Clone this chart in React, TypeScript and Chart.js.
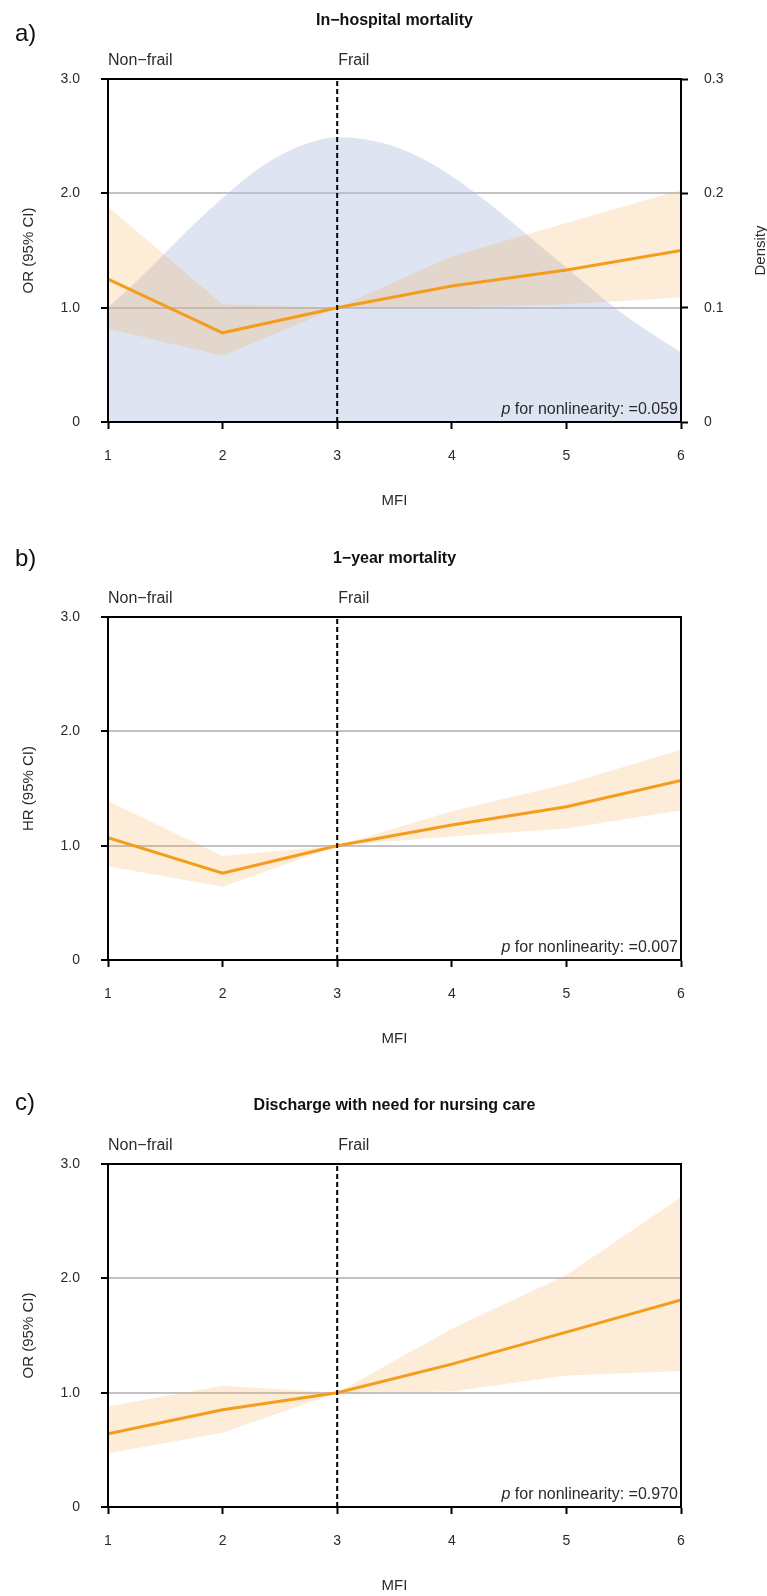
import React, { useEffect, useRef } from 'react';
import { Chart, registerables } from 'chart.js';

Chart.register(...registerables);

const FONT = "'Liberation Sans', Arial, Helvetica, sans-serif";
const TXT = '#2b2b2b';
const ORANGE = '#F49C1C';
const BAND = 'rgba(245,160,60,0.2)';
const DENS = 'rgba(176,190,222,0.42)';
const GRID = '#c2c2c2';

// x categories (MFI)
const mfi = [1, 2, 3, 4, 5, 6];

// a) In-hospital mortality (OR)
const aEstimate = [1.25, 0.78, 1.0, 1.19, 1.33, 1.5];
const aLower = [0.815, 0.58, 1.0, 1.0, 1.03, 1.09];
const aUpper = [1.88, 1.03, 1.0, 1.45, 1.74, 2.03];

// b) 1-year mortality (HR)
const bEstimate = [1.07, 0.76, 1.0, 1.18, 1.34, 1.57];
const bLower = [0.82, 0.64, 1.0, 1.08, 1.15, 1.31];
const bUpper = [1.39, 0.91, 1.0, 1.3, 1.54, 1.84];

// c) Discharge with need for nursing care (OR)
const cEstimate = [0.64, 0.85, 1.0, 1.25, 1.53, 1.81];
const cLower = [0.47, 0.65, 1.0, 1.01, 1.15, 1.19];
const cUpper = [0.88, 1.06, 1.0, 1.56, 2.03, 2.71];

// MFI density (panel a, right axis)
const densityX = [1, 1.25, 1.5, 1.75, 2, 2.25, 2.5, 2.75, 3, 3.25, 3.5, 3.75, 4, 4.25, 4.5, 4.75, 5, 5.25, 5.5, 5.75, 6];
const densityY = [0.1, 0.123, 0.148, 0.173, 0.196, 0.217, 0.233, 0.244, 0.249, 0.247, 0.241, 0.23, 0.215, 0.197, 0.177, 0.156, 0.135, 0.114, 0.094, 0.077, 0.061];

// tick labels
const yTicks = [0, 1, 2, 3];
const yTickLabels = ['0', '1.0', '2.0', '3.0'];
const densTicks = [0, 0.1, 0.2, 0.3];
const densTickLabels = ['0', '0.1', '0.2', '0.3'];

const refX = [3, 3];
const refY = [0, 3];

type PanelCfg = {
  height: number;
  label: string;
  labelBaseline: number;
  title: string;
  yTitle: string;
  pValue: string;
  est: number[];
  lower: number[];
  upper: number[];
  density: boolean;
};

const panels: PanelCfg[] = [
  { height: 538, label: 'a)', labelBaseline: 41, title: 'In\u2212hospital mortality', yTitle: 'OR (95% CI)', pValue: '=0.059', est: aEstimate, lower: aLower, upper: aUpper, density: true },
  { height: 547, label: 'b)', labelBaseline: 28, title: '1\u2212year mortality', yTitle: 'HR (95% CI)', pValue: '=0.007', est: bEstimate, lower: bLower, upper: bUpper, density: false },
  { height: 511, label: 'c)', labelBaseline: 25, title: 'Discharge with need for nursing care', yTitle: 'OR (95% CI)', pValue: '=0.970', est: cEstimate, lower: cLower, upper: cUpper, density: false },
];

const PLOT_BOTTOM = 422;
const PLOT_TOP = 79;

function toXY(xs: number[], ys: number[]) {
  return xs.map((x, i) => ({ x, y: ys[i] }));
}

function Panel({ cfg }: { cfg: PanelCfg }) {
  const ref = useRef<HTMLCanvasElement>(null);
  useEffect(() => {
    const canvas = ref.current;
    if (!canvas) return;
    const H = cfg.height;
    const datasets: any[] = [
      {
        label: 'ref',
        data: toXY(refX, refY),
        borderColor: '#000',
        borderWidth: 2,
        borderDash: [5, 3],
        pointRadius: 0,
        fill: false,
        order: 0,
      },
      {
        label: 'estimate',
        data: toXY(mfi, cfg.est),
        borderColor: ORANGE,
        borderWidth: 3,
        pointRadius: 0,
        fill: false,
        tension: 0,
        order: 1,
      },
      {
        label: 'upper',
        data: toXY(mfi, cfg.upper),
        borderColor: 'rgba(0,0,0,0)',
        borderWidth: 0,
        backgroundColor: BAND,
        pointRadius: 0,
        fill: '+1',
        order: 2,
      },
      {
        label: 'lower',
        data: toXY(mfi, cfg.lower),
        borderColor: 'rgba(0,0,0,0)',
        borderWidth: 0,
        pointRadius: 0,
        fill: false,
        order: 3,
      },
    ];
    if (cfg.density) {
      datasets.push({
        label: 'density',
        data: toXY(densityX, densityY),
        yAxisID: 'y2',
        borderColor: 'rgba(0,0,0,0)',
        borderWidth: 0,
        backgroundColor: DENS,
        pointRadius: 0,
        fill: 'origin',
        cubicInterpolationMode: 'monotone',
        order: 5,
      });
    }

    const tickFont = { family: FONT, size: 14 };
    const titleFont = { family: FONT, size: 15 };

    const scales: any = {
      x: {
        type: 'linear',
        position: 'bottom',
        min: 1,
        max: 6,
        afterBuildTicks: (s: any) => {
          s.ticks = mfi.map((v) => ({ value: v }));
        },
        ticks: { font: tickFont, color: TXT, padding: 18.6, maxRotation: 0, autoSkip: false },
        grid: { drawOnChartArea: false, drawTicks: true, tickLength: 7, tickColor: '#000', tickWidth: 2, color: '#000' },
        border: { display: true, color: '#000', width: 2 },
        title: { display: true, text: 'MFI', font: titleFont, color: TXT, padding: { top: 0, bottom: H - 501 - 9 } },
        afterFit: (s: any) => {
          s.height = H - PLOT_BOTTOM;
        },
      },
      y: {
        type: 'linear',
        position: 'left',
        min: 0,
        max: 3,
        afterBuildTicks: (s: any) => {
          s.ticks = yTicks.map((v) => ({ value: v }));
        },
        ticks: {
          font: tickFont,
          color: TXT,
          padding: 21,
          callback: (v: any) => yTickLabels[yTicks.indexOf(Number(v))] ?? String(v),
        },
        grid: {
          color: (ctx: any) => (ctx.tick && (ctx.tick.value === 1 || ctx.tick.value === 2) ? GRID : 'rgba(0,0,0,0)'),
          lineWidth: 2,
          drawTicks: true,
          tickLength: 7,
          tickColor: '#000',
          tickWidth: 2,
        },
        border: { display: true, color: '#000', width: 2 },
        title: { display: true, text: cfg.yTitle, font: titleFont, color: TXT, padding: { top: 20, bottom: 0 } },
        afterFit: (s: any) => {
          s.width = 108;
        },
      },
    };
    if (cfg.density) {
      scales.y2 = {
        type: 'linear',
        position: 'right',
        min: 0,
        max: 0.3,
        afterBuildTicks: (s: any) => {
          s.ticks = densTicks.map((v) => ({ value: v }));
        },
        ticks: {
          font: tickFont,
          color: TXT,
          padding: 16,
          callback: (v: any) => {
            const i = densTicks.findIndex((t) => Math.abs(t - Number(v)) < 1e-9);
            return i >= 0 ? densTickLabels[i] : String(v);
          },
        },
        grid: { drawOnChartArea: false, drawTicks: true, tickLength: 7, tickColor: '#000', tickWidth: 2, color: '#000' },
        border: { display: true, color: '#000', width: 2 },
        title: { display: false },
        afterFit: (s: any) => {
          s.width = 767 - 681;
        },
      };
    }

    const annot = {
      id: 'annot',
      afterDatasetsDraw(chart: any) {
        const { ctx, chartArea } = chart;
        const { left, right, top, bottom } = chartArea;
        ctx.save();
        ctx.strokeStyle = '#000';
        ctx.lineWidth = 2;
        ctx.strokeRect(left, top, right - left, bottom - top);
        ctx.restore();
      },
      afterDraw(chart: any) {
        const { ctx, chartArea } = chart;
        const { left, right, top, bottom } = chartArea;
        const xs = chart.scales.x;
        ctx.save();
        ctx.fillStyle = '#111';
        ctx.textBaseline = 'alphabetic';
        // panel label
        ctx.font = `24px ${FONT}`;
        ctx.textAlign = 'left';
        ctx.fillText(cfg.label, 15, cfg.labelBaseline);
        // title
        ctx.font = `bold 16px ${FONT}`;
        ctx.textAlign = 'center';
        ctx.fillText(cfg.title, (left + right) / 2, 25);
        // group labels
        ctx.fillStyle = TXT;
        ctx.font = `16px ${FONT}`;
        ctx.textAlign = 'left';
        ctx.fillText('Non\u2212frail', xs.getPixelForValue(1), top - 14);
        ctx.fillText('Frail', xs.getPixelForValue(3) + 1, top - 14);
        // p for nonlinearity
        const rest = ` for nonlinearity: ${cfg.pValue}`;
        ctx.font = `16px ${FONT}`;
        ctx.textAlign = 'right';
        const rx = right - 3;
        ctx.fillText(rest, rx, bottom - 8);
        const w = ctx.measureText(rest).width;
        ctx.font = `italic 16px ${FONT}`;
        ctx.fillText('p', rx - w, bottom - 8);
        // density axis title
        if (cfg.density) {
          ctx.font = `15px ${FONT}`;
          ctx.textAlign = 'center';
          ctx.textBaseline = 'middle';
          ctx.translate(761, (top + bottom) / 2);
          ctx.rotate(-Math.PI / 2);
          ctx.fillText('Density', 0, 0);
        }
        ctx.restore();
      },
    };

    const chart = new Chart(canvas, {
      type: 'line',
      data: { datasets },
      options: {
        animation: false,
        responsive: false,
        maintainAspectRatio: false,
        devicePixelRatio: 1,
        layout: { padding: { top: PLOT_TOP, left: 0, right: cfg.density ? 0 : 767 - 681, bottom: 0 } },
        plugins: { legend: { display: false }, tooltip: { enabled: false }, title: { display: false } },
        scales,
      } as any,
      plugins: [annot],
    });
    return () => chart.destroy();
  }, [cfg]);
  return <canvas ref={ref} width={767} height={cfg.height} style={{ display: 'block', width: 767, height: cfg.height }} />;
}

export default function App() {
  return (
    <div style={{ position: 'absolute', left: 0, top: 0, width: 767, height: 1596, background: '#fff' }}>
      {panels.map((p) => (
        <Panel key={p.label} cfg={p} />
      ))}
    </div>
  );
}
